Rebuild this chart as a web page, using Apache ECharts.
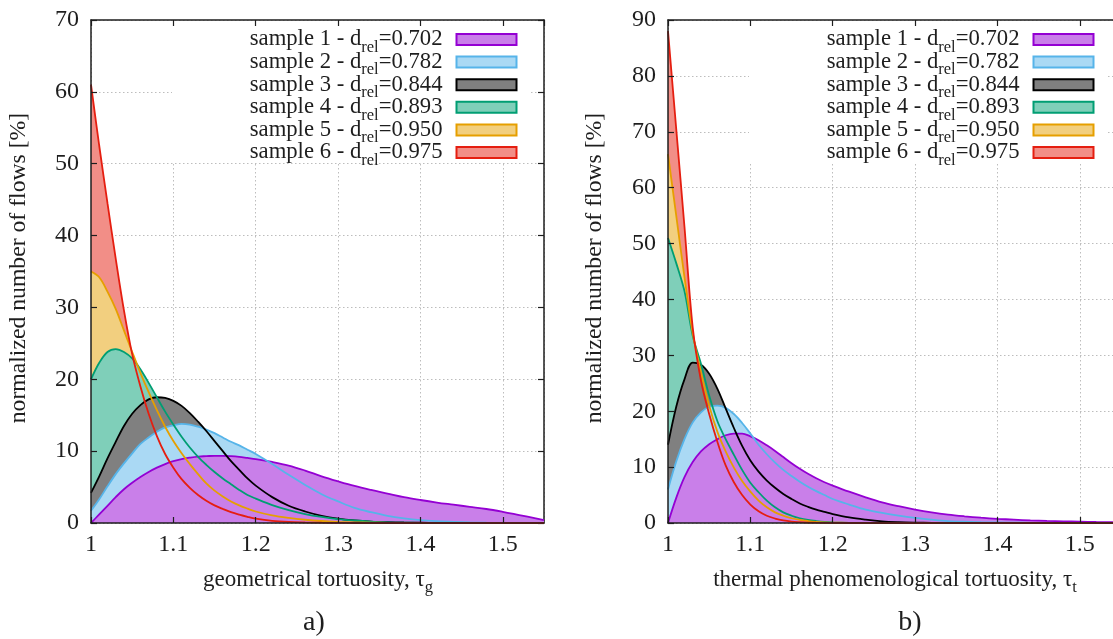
<!DOCTYPE html>
<html><head><meta charset="utf-8">
<script src="https://cdn.jsdelivr.net/npm/echarts@6/dist/echarts.min.js"></script>
<style>html,body{margin:0;padding:0;background:#fff}#c{width:1113px;height:639px}</style>
</head><body><div id="c"></div>
<script>
// ---------- data ----------
const tau = [1.00,1.01,1.02,1.03,1.04,1.05,1.06,1.07,1.08,1.09,1.10,1.11,1.12,1.13,1.14,1.15,1.16,1.17,1.18,1.19,1.20,
             1.22,1.24,1.26,1.28,1.30,1.32,1.34,1.36,1.38,1.40,1.42,1.44,1.46,1.48,1.50,1.52,1.54,1.55];
const sampleNames = ['sample 1','sample 2','sample 3','sample 4','sample 5','sample 6'];
const dRel = ['0.702','0.782','0.844','0.893','0.950','0.975'];

// panel a) geometrical tortuosity
const geo1 = [0,1.2,2.4,3.6,4.7,5.6,6.4,7.1,7.7,8.2,8.6,8.9,9.1,9.25,9.3,9.35,9.35,9.3,9.2,9.05,8.9,
              8.5,8.0,7.3,6.5,5.8,5.15,4.6,4.1,3.6,3.2,2.85,2.55,2.25,1.95,1.55,1.1,0.65,0.4];
const geo2 = [1.7,3.3,5.1,6.8,8.3,9.7,11.0,11.9,12.7,13.3,13.6,13.8,13.7,13.4,13.0,12.5,11.9,11.3,10.8,10.2,9.6,
              8.2,6.7,5.3,4.0,3.0,2.1,1.5,1.0,0.65,0.4,0.25,0.15,0.08,0.04,0.02,0,0,0];
const geo3 = [4.2,6.5,9.0,11.3,13.5,15.2,16.4,17.2,17.5,17.4,17.0,16.3,15.3,14.1,12.8,11.4,10.0,8.6,7.4,6.2,5.2,
              3.6,2.4,1.6,1.0,0.6,0.35,0.2,0.12,0.07,0.04,0.02,0,0,0,0,0,0,0];
const geo4 = [20,22.3,23.8,24.2,23.8,22.9,21.4,19.5,17.5,15.5,13.7,12.0,10.5,9.2,8.1,7.1,6.2,5.4,4.6,3.9,3.4,
              2.5,1.8,1.25,0.85,0.55,0.35,0.2,0.1,0.05,0.02,0,0,0,0,0,0,0,0];
const geo5 = [35,34.2,32.2,29.8,26.8,23.8,20.9,18.2,15.7,13.4,11.4,9.7,8.2,6.8,5.5,4.5,3.7,3.0,2.45,2.0,1.6,
              1.05,0.7,0.45,0.28,0.17,0.1,0.05,0.02,0,0,0,0,0,0,0,0,0,0];
const geo6 = [61,52.5,44.5,36.8,29.6,23.5,19.0,15.2,12.1,9.6,7.7,6.1,4.9,3.9,3.1,2.45,1.95,1.5,1.15,0.85,0.6,
              0.3,0.15,0.08,0.04,0.02,0,0,0,0,0,0,0,0,0,0,0,0,0];

// panel b) thermal phenomenological tortuosity
const th1 = [0,4.5,8.2,10.9,12.8,14.1,15.0,15.7,16.0,16.0,15.5,14.8,13.9,12.9,11.8,10.7,9.7,8.8,8.0,7.3,6.7,
             5.6,4.6,3.7,3.0,2.4,1.9,1.5,1.2,0.95,0.75,0.6,0.47,0.37,0.3,0.24,0.18,0.13,0.1];
const th2 = [6,11,15,18,19.8,20.8,21.0,20.6,19.5,17.9,16.0,14.0,12.3,10.8,9.5,8.4,7.4,6.5,5.7,5.0,4.3,
             3.3,2.4,1.8,1.3,0.9,0.6,0.35,0.22,0.15,0.1,0.06,0.03,0,0,0,0,0,0];
const th3 = [14,20.8,25.7,28.7,28.3,26.7,24.0,20.5,17.0,13.8,11.2,9.2,7.6,6.3,5.2,4.3,3.5,2.9,2.4,2.0,1.6,
             1.0,0.6,0.3,0.15,0.07,0.03,0,0,0,0,0,0,0,0,0,0,0,0];
const th4 = [51,46.5,41.5,33.5,28.5,22.8,18.2,15.0,12.2,9.5,7.2,5.5,4.0,2.8,1.9,1.3,0.85,0.55,0.35,0.2,0.12,
             0.04,0,0,0,0,0,0,0,0,0,0,0,0,0,0,0,0,0];
const th5 = [66,55,44,34,27,21,16.3,12.8,9.9,7.5,5.6,4.0,2.8,1.9,1.3,0.85,0.55,0.35,0.2,0.12,0.07,
             0.02,0,0,0,0,0,0,0,0,0,0,0,0,0,0,0,0,0];
const th6 = [88,70.5,53,35,25.5,19.5,14.5,10.3,7.3,5.0,3.3,2.1,1.3,0.8,0.45,0.25,0.15,0.08,0.05,0.03,0.02,
             0,0,0,0,0,0,0,0,0,0,0,0,0,0,0,0,0,0];

const geoSeries = [geo1,geo2,geo3,geo4,geo5,geo6];
const thSeries = [th1,th2,th3,th4,th5,th6];
const xMin = 1, xMax = 1.55, xStep = 0.1;
const yMaxA = 70, yMaxB = 90, yStep = 10;

// ---------- styles ----------
const lineColors = ['#9400d3','#56b4e9','#000000','#009e73','#e69f00','#e51e10'];
const fillColors = ['#c97fe9','#aad9f4','#808080','#7fcfb9','#f2cf7f','#f28e87'];
const FONT = "'Liberation Serif','DejaVu Serif','Times New Roman',serif";
const INK = '#1e1e1e';
const TICK_FS = 24;

function mainX(g){return {type:'value',gridIndex:g,min:xMin,max:xMax,interval:xStep,position:'bottom',z:5,
  axisLine:{show:true,onZero:false,lineStyle:{color:INK,width:1.5}},
  axisTick:{show:true,inside:true,length:6,lineStyle:{color:INK,width:1.2}},
  axisLabel:{show:true,margin:10,fontFamily:FONT,fontSize:TICK_FS,color:INK,showMaxLabel:false,
    formatter:v=>String(+(+v).toFixed(2))},
  splitLine:{show:false}};}
function mirrorX(g){return {type:'value',gridIndex:g,min:xMin,max:xMax,interval:xStep,position:'top',z:0,
  axisLine:{show:true,onZero:false,lineStyle:{color:INK,width:1.5}},
  axisTick:{show:true,inside:true,length:6,lineStyle:{color:INK,width:1.2}},
  axisLabel:{show:false},
  splitLine:{show:true,lineStyle:{color:'#bdbdbd',width:1,type:[1.5,2.5]}}};}
function mainY(g,max){return {type:'value',gridIndex:g,min:0,max:max,interval:yStep,position:'left',z:5,
  axisLine:{show:true,onZero:false,lineStyle:{color:INK,width:1.5}},
  axisTick:{show:true,inside:true,length:6,lineStyle:{color:INK,width:1.2}},
  axisLabel:{show:true,margin:12,fontFamily:FONT,fontSize:TICK_FS,color:INK},
  splitLine:{show:false}};}
function mirrorY(g,max){return {type:'value',gridIndex:g,min:0,max:max,interval:yStep,position:'right',z:0,
  axisLine:{show:true,onZero:false,lineStyle:{color:INK,width:1.5}},
  axisTick:{show:true,inside:true,length:6,lineStyle:{color:INK,width:1.2}},
  axisLabel:{show:false},
  splitLine:{show:true,lineStyle:{color:'#bdbdbd',width:1,type:[1.5,2.5]}}};}

function panelSeries(axisIdx, ys){
  const out = [];
  for (let i = 5; i >= 0; i--) {
    out.push({type:'line',name:sampleNames[i],xAxisIndex:axisIdx,yAxisIndex:axisIdx,
      data:tau.map((x,k)=>[x,ys[i][k]]),smooth:0.35,symbol:'none',showSymbol:false,
      lineStyle:{width:0,opacity:0},areaStyle:{color:fillColors[i],opacity:1},itemStyle:{color:fillColors[i]},
      z:2,silent:true,emphasis:{disabled:true},animation:false});
  }
  for (let i = 0; i < 6; i++) {
    out.push({type:'line',name:sampleNames[i],xAxisIndex:axisIdx,yAxisIndex:axisIdx,
      data:tau.map((x,k)=>[x,ys[i][k]]),smooth:0.35,symbol:'none',showSymbol:false,
      lineStyle:{width:1.8,color:lineColors[i]},itemStyle:{color:lineColors[i]},
      z:3,silent:true,emphasis:{disabled:true},animation:false});
  }
  return out;
}

function mkLegend(right){
  return {orient:'vertical',right:right,top:23,padding:0,itemGap:-10.4,itemWidth:60,itemHeight:11,
    align:'right',icon:'rect',selectedMode:false,z:4,
    data:sampleNames.map((n,i)=>({name:n,itemStyle:{color:fillColors[i],borderColor:lineColors[i],borderWidth:2}})),
    formatter:n=>{const i=sampleNames.indexOf(n);return '{t|'+n+' - d}{s|rel}{e|='+dRel[i]+'}';},
    textStyle:{rich:{
      t:{fontFamily:FONT,fontSize:22.7,lineHeight:22,color:INK},
      s:{fontFamily:FONT,fontSize:16.5,lineHeight:22,padding:[16,0,0,0],color:INK},
      e:{fontFamily:FONT,fontSize:22.7,lineHeight:22,color:INK,padding:[0,9,0,0]}}}};
}

const richT = {
  t:{fontFamily:FONT,fontSize:23,lineHeight:26,fill:INK,color:INK},
  s:{fontFamily:FONT,fontSize:16.5,lineHeight:26,padding:[16,0,0,0],fill:INK,color:INK}
};
function txt(x,y,text,size,rot){
  return {type:'text',x:x,y:y,rotation:rot||0,z:10,silent:true,
    style:{text:text,fontFamily:FONT,fontSize:size,fill:INK,align:'center',verticalAlign:'middle',rich:richT}};
}

const option = {
  animation:false,
  backgroundColor:'#fff',
  grid:[
    {left:91,top:20,width:453,height:503,containLabel:false,outerBoundsMode:'none'},
    {left:668,top:20,width:453,height:503,containLabel:false,outerBoundsMode:'none'}
  ],
  xAxis:[mainX(0),mirrorX(0),mainX(1),mirrorX(1)],
  yAxis:[mainY(0,yMaxA),mirrorY(0,yMaxA),mainY(1,yMaxB),mirrorY(1,yMaxB)],
  legend:[mkLegend(1113-517.5),mkLegend(1113-1094.5)],
  series:[].concat(panelSeries(0,geoSeries),panelSeries(2,thSeries)),
  graphic:[
    {type:'rect',z:1,silent:true,shape:{x:172,y:26.5,width:358,height:135.5},style:{fill:'#ffffff'}},
    {type:'rect',z:1,silent:true,shape:{x:749,y:26.5,width:358,height:135.5},style:{fill:'#ffffff'}},
    txt(19,268,'normalized number of flows [%]',23.7,Math.PI/2),
    txt(595,268,'normalized number of flows [%]',23.7,Math.PI/2),
    txt(318,580,'{t|geometrical tortuosity, τ}{s|g}',23,0),
    txt(895,580,'{t|thermal phenomenological tortuosity, τ}{s|t}',23,0),
    txt(314,623,'a)',28,0),
    txt(910,623,'b)',28,0)
  ]
};
const chart = echarts.init(document.getElementById('c'),null,{renderer:'canvas'});
chart.setOption(option);
</script></body></html>
